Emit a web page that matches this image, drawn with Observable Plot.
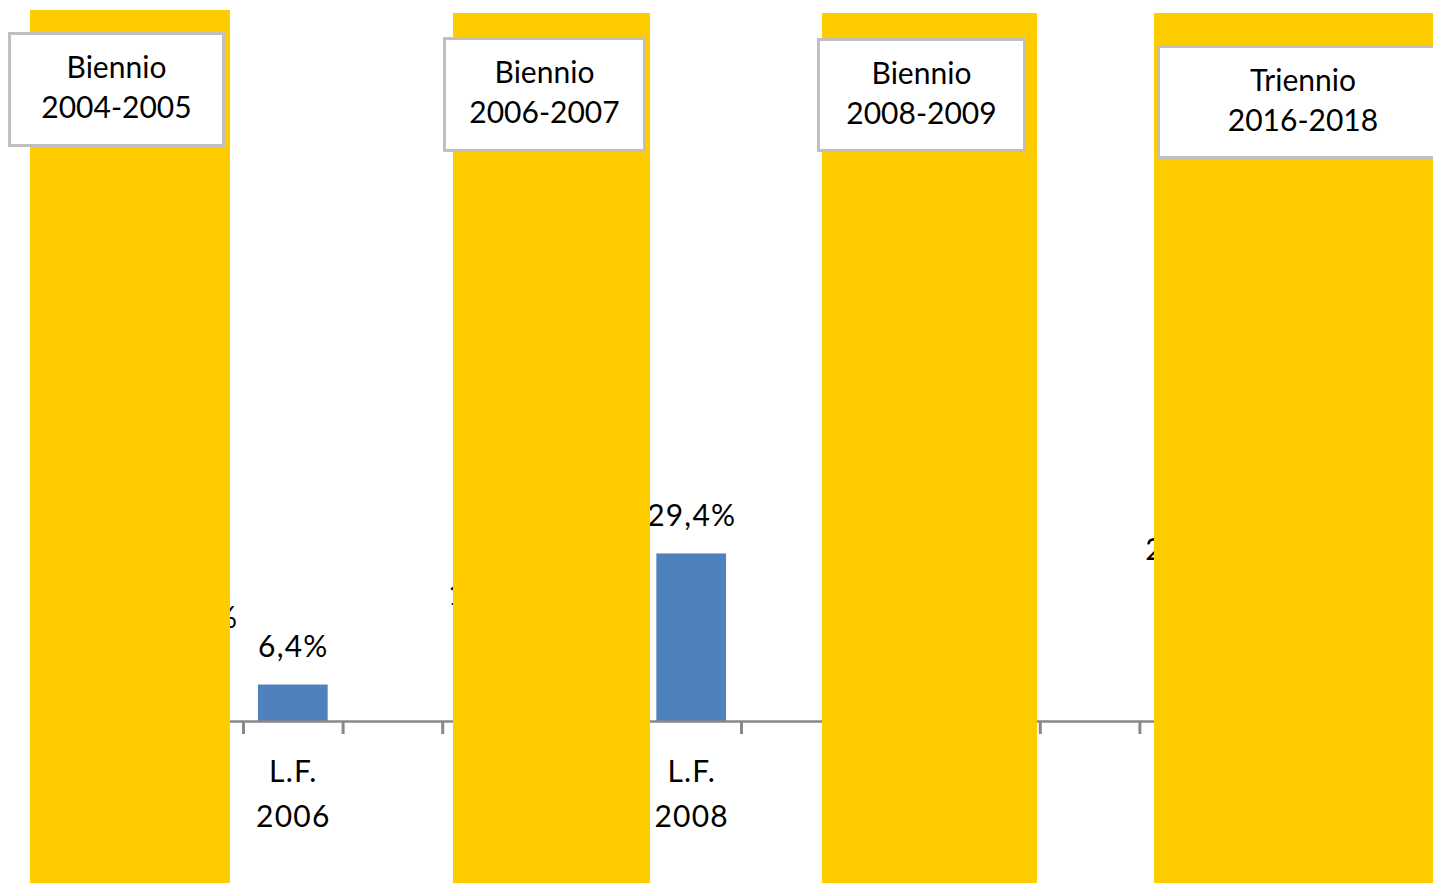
<!DOCTYPE html>
<html>
<head>
<meta charset="utf-8">
<script src="https://cdn.jsdelivr.net/npm/d3@7"></script>
<script src="https://cdn.jsdelivr.net/npm/@observablehq/plot@0.6"></script>
<style>
  html, body { margin: 0; padding: 0; background: #fff; }
  #wrap { position: relative; width: 1433px; height: 883px; overflow: hidden; font-family: Lato, "Open Sans", sans-serif; }
  #chart { position: absolute; left: 0; top: 0; }
  #chart svg text { letter-spacing: 1.2px; }
  .panel { position: absolute; background: #ffcc00; }
  .box { position: absolute; box-sizing: border-box; background: #fff; border: 3px solid #bfbfbf;
         text-align: center; font-size: 30px; line-height: 40px; color: #000; padding-top: 11px; white-space: pre; }
</style>
</head>
<body>
<div id="wrap"><div id="chart"></div></div>
<script>
// ---- data ----
const categories = ["2004", "2005", "L.F. 2006", "gap1", "2006", "2007", "L.F. 2008", "gap2",
                    "2008", "2009", "gap3", "2016", "2017", "2018"];
const tickLabels = ["", "", "L.F.\n2006", "", "", "", "L.F.\n2008", "", "", "", "", "", "", ""];
const values = [null, 11.4, 6.4, null, 15.4, null, 29.4, null, null, null, null, 23.3, null, null];
const groupLabels = ["Biennio\n2004-2005", "Biennio\n2006-2007", "Biennio\n2008-2009", "Triennio\n2016-2018"];

// ---- layout of the overlay panels (annotation shapes, not data) ----
const panelLayout = [
  {left: 30,   top: 10, width: 200, box: {left: 8,    top: 32, width: 217, height: 115}},
  {left: 453,  top: 13, width: 197, box: {left: 443,  top: 37, width: 203, height: 115}},
  {left: 822,  top: 13, width: 215, box: {left: 817,  top: 38, width: 209, height: 114}},
  {left: 1154, top: 13, width: 279, box: {left: 1157, top: 45, width: 292, height: 114}}
];

const table = categories.map((c, i) => ({cat: c, label: tickLabels[i], value: values[i]}));
const barData = table.filter(d => d.value != null);
const fmt = v => v.toFixed(1).replace(".", ",") + "%";

const xRange = [43.8, 1438.2];
const step = (xRange[1] - xRange[0]) / categories.length;
const grey = "#898989";

const chart = Plot.plot({
  width: 1433,
  height: 883,
  marginLeft: 44,
  marginRight: 0,
  marginTop: 37,
  marginBottom: 162,
  style: {fontFamily: "Lato, 'Open Sans', sans-serif", fontSize: "30px", background: "#fff", color: "#000"},
  x: {type: "band", domain: categories, range: xRange, paddingInner: 0.3, paddingOuter: 0.15, round: false, label: null},
  y: {domain: [0, 120], axis: null},
  marks: [
    Plot.barY(barData, {x: "cat", y: "value", fill: "#4f81bd"}),
    Plot.ruleY([0], {stroke: grey, strokeWidth: 2.5}),
    Plot.axisX({tickSize: 13, tickFormat: () => "", label: null, dx: -step / 2, stroke: grey, strokeWidth: 3}),
    Plot.text(table, {x: "cat", text: "label", frameAnchor: "bottom", lineAnchor: "top",
                      dy: 29, lineHeight: 1.5, fontSize: 30, fill: "#000"}),
    Plot.text(barData, {x: "cat", y: "value", text: d => fmt(d.value), dy: -38, fontSize: 30, fill: "#000"})
  ]
});
document.getElementById("chart").appendChild(chart);

// ---- overlays ----
const wrap = document.getElementById("wrap");
groupLabels.forEach((label, i) => {
  const L = panelLayout[i];
  const p = document.createElement("div");
  p.className = "panel";
  p.style.left = L.left + "px";
  p.style.top = L.top + "px";
  p.style.width = L.width + "px";
  p.style.height = (883 - L.top) + "px";
  wrap.appendChild(p);
  const b = document.createElement("div");
  b.className = "box";
  b.style.left = L.box.left + "px";
  b.style.top = L.box.top + "px";
  b.style.width = L.box.width + "px";
  b.style.height = L.box.height + "px";
  b.textContent = label;
  wrap.appendChild(b);
});
</script>
</body>
</html>
